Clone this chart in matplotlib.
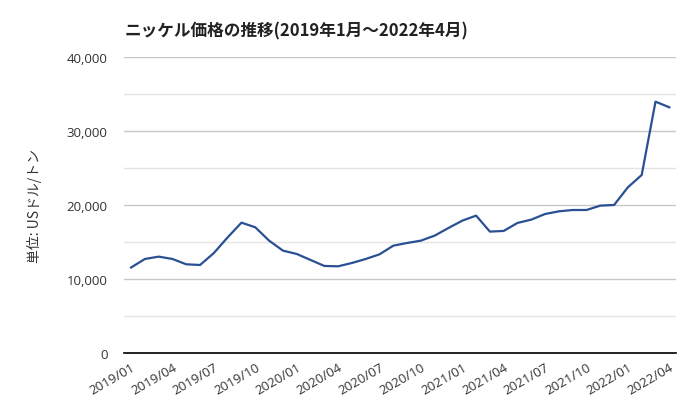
import matplotlib
matplotlib.use("Agg")
import matplotlib.pyplot as plt
from matplotlib.ticker import FuncFormatter, MultipleLocator

plt.rcParams['font.family'] = ['Noto Sans CJK JP', 'DejaVu Sans']

months = [f"{y}/{m:02d}" for y in (2019, 2020, 2021, 2022) for m in range(1, 13)][:40]
prices = [11550, 12700, 13020, 12700, 11980, 11890, 13510, 15630, 17610, 16980,
          15180, 13830, 13380, 12570, 11760, 11710, 12160, 12700, 13330, 14500,
          14860, 15180, 15860, 16890, 17880, 18560, 16400, 16490, 17570, 18020,
          18780, 19140, 19320, 19320, 19910, 20000, 22390, 24050, 33960, 33200]
tick_labels = months[::3]

title = "ニッケル価格の推移(2019年1月～2022年4月)"
ylabel = "単位: USドル/トン"

fig = plt.figure(figsize=(6.9, 4.14), dpi=100)
ax = fig.add_axes([0.18, 0.145, 0.80, 0.715])

x = list(range(len(prices)))
ax.plot(x, prices, color="#2A4F93", linewidth=1.6, solid_joinstyle="round")

ax.set_xlim(-0.5, len(prices) - 0.5)
ax.set_ylim(0, 40000)
ax.yaxis.set_major_locator(MultipleLocator(10000))
ax.yaxis.set_minor_locator(MultipleLocator(5000))
ax.yaxis.set_major_formatter(FuncFormatter(lambda v, p: f"{int(v):,}"))
ax.grid(axis="y", which="major", color="#c8c8c8", linewidth=1.0)
ax.grid(axis="y", which="minor", color="#e4e4e4", linewidth=1.0)
ax.set_axisbelow(True)

tick_font = ['Open Sans', 'DejaVu Sans']
ax.set_xticks(x[::3])
ax.set_xticklabels(tick_labels, rotation=30, ha="right", rotation_mode="anchor",
                   fontsize=9.5, color="#333333", family=tick_font)
for lbl in ax.get_yticklabels():
    lbl.set_family(tick_font)
ax.tick_params(axis="x", length=0, pad=5)
ax.tick_params(axis="y", which="both", length=0, pad=12, labelsize=9.5, labelcolor="#333333")
for lbl in ax.get_yticklabels():
    lbl.set_family(tick_font)

for s in ("top", "right", "left"):
    ax.spines[s].set_visible(False)
ax.spines["bottom"].set_color("black")
ax.spines["bottom"].set_linewidth(1.2)

ax.set_ylabel(ylabel, fontsize=10, color="#333333", labelpad=18)
fig.text(0.181, 0.925, title, fontsize=12, fontweight="bold", color="#222222",
         ha="left", va="center")

fig.savefig("out.png", dpi=100, facecolor="white")
